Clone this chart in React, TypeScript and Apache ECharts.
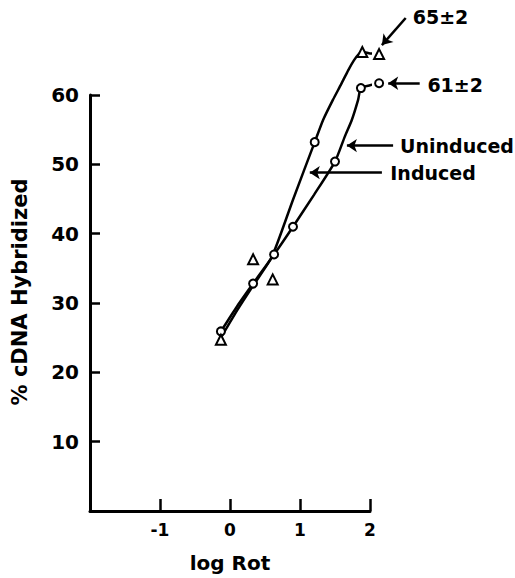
import React, { useEffect, useRef } from "react";
import * as echarts from "echarts";

// Measured points (log Rot, % cDNA hybridized)
const uninducedPoints: [number, number][] = [
  [-0.13, 25.9], [0.33, 32.8], [0.63, 37.0], [0.9, 41.0], [1.21, 53.2], [1.5, 50.4], [1.87, 61.0], [2.13, 61.7],
];
const inducedPoints: [number, number][] = [
  [-0.13, 24.7], [0.33, 36.3], [0.61, 33.4], [1.89, 66.2], [2.13, 65.9],
];
// Hand-drawn curves
const inducedCurve: [number, number][] = [
  [-0.13, 25.0], [0.1, 28.9], [0.33, 32.5], [0.6, 36.7], [0.9, 44.9], [1.21, 53.2], [1.33, 56.4],
  [1.47, 59.3], [1.59, 61.6], [1.69, 63.6], [1.77, 65.0], [1.83, 65.8], [1.89, 66.2], [2.0, 66.0], [2.13, 65.9],
];
const uninducedCurve: [number, number][] = [
  [-0.13, 25.9], [0.1, 29.5], [0.33, 32.8], [0.63, 37.0], [0.9, 41.0], [1.2, 45.6], [1.5, 50.4],
  [1.64, 54.0], [1.74, 56.4], [1.83, 59.3], [1.87, 61.0], [2.0, 61.4], [2.13, 61.7],
];
const xTicks = [-2, -1, 0, 1, 2];
const yTicks = [0, 10, 20, 30, 40, 50, 60];

// Annotations
const labelTexts = ["65±2", "61±2", "Uninduced", "Induced"];
const labelAnchors: [number, number][] = [[2.61, 71.2], [2.82, 61.4], [2.43, 52.7], [2.29, 48.8]];
const arrowTails: [number, number][] = [[2.51, 71.1], [2.71, 61.7], [2.33, 52.7], [2.17, 48.8]];
const arrowTips: [number, number][] = [[2.17, 67.2], [2.26, 61.7], [1.67, 52.7], [1.14, 48.8]];

const FONT = "DejaVu Sans";

export default function App() {
  const ref = useRef<HTMLDivElement>(null);
  useEffect(() => {
    document.body.style.margin = "0";
    const chart = echarts.init(ref.current!, null, { renderer: "svg" });
    const hollow = {
      color: "#fff",
      borderColor: "#000",
      borderWidth: 2,
      opacity: 1,
    };
    chart.setOption({
      animation: false,
      backgroundColor: "#fff",
      grid: { left: 90, top: 95, right: 145, bottom: 66 },
      xAxis: {
        type: "value",
        min: xTicks[0],
        max: xTicks[xTicks.length - 1],
        interval: 1,
        axisLine: { onZero: false, lineStyle: { color: "#000", width: 3 } },
        axisTick: { inside: true, length: 12, lineStyle: { color: "#000", width: 2.5 } },
        axisLabel: {
          formatter: (v: number) => (v === xTicks[0] ? "" : String(v)),
          color: "#000",
          fontFamily: FONT,
          fontWeight: "bold",
          fontSize: 17,
          margin: 10,
        },
        splitLine: { show: false },
        name: "log Rot",
        nameLocation: "middle",
        nameGap: 42,
        nameTextStyle: { color: "#000", fontFamily: FONT, fontWeight: "bold", fontSize: 20 },
      },
      yAxis: {
        type: "value",
        min: yTicks[0],
        max: yTicks[yTicks.length - 1],
        interval: 10,
        axisLine: { show: true, onZero: false, lineStyle: { color: "#000", width: 3 } },
        axisTick: { show: true, inside: true, length: 10, lineStyle: { color: "#000", width: 2.5 } },
        axisLabel: {
          formatter: (v: number) => (v === yTicks[0] ? "" : String(v)),
          color: "#000",
          fontFamily: FONT,
          fontWeight: "bold",
          fontSize: 20,
          margin: 11,
        },
        splitLine: { show: false },
        name: "% cDNA Hybridized",
        nameLocation: "middle",
        nameGap: 60,
        nameTextStyle: { color: "#000", fontFamily: FONT, fontWeight: "bold", fontSize: 21, padding: [0, 0, 0, 22] },
      },
      series: [
        {
          type: "line",
          data: inducedCurve,
          smooth: 0.2,
          symbol: "none",
          clip: false,
          lineStyle: { color: "#000", width: 2.5, opacity: 1 },
          z: 2,
        },
        {
          type: "line",
          data: uninducedCurve,
          smooth: 0.2,
          symbol: "none",
          clip: false,
          lineStyle: { color: "#000", width: 2.5, opacity: 1 },
          z: 2,
        },
        {
          type: "scatter",
          data: uninducedPoints,
          symbol: "circle",
          symbolSize: 8,
          clip: false,
          itemStyle: hollow,
          z: 5,
        },
        {
          type: "scatter",
          data: inducedPoints,
          symbol: "triangle",
          symbolSize: 10,
          clip: false,
          itemStyle: hollow,
          z: 5,
        },
        {
          type: "lines",
          coordinateSystem: "cartesian2d",
          clip: false,
          symbol: ["none", "arrow"],
          symbolSize: [0, 10],
          lineStyle: { color: "#000", width: 2.5, opacity: 1 },
          data: arrowTails.map((t, i) => ({ coords: [t, arrowTips[i]] })),
          z: 4,
        },
        {
          type: "scatter",
          symbolSize: 0,
          clip: false,
          silent: true,
          itemStyle: { opacity: 1 },
          data: labelAnchors.map((p, i) => ({ value: p, name: labelTexts[i] })),
          label: {
            show: true,
            position: "right",
            distance: 0,
            formatter: (p: any) => p.name,
            color: "#000",
            opacity: 1,
            fontFamily: FONT,
            fontWeight: "bold",
            fontSize: 19,
          },
          z: 6,
        },
      ],
    });
    return () => chart.dispose();
  }, []);
  return <div ref={ref} style={{ width: 515, height: 578 }} />;
}
